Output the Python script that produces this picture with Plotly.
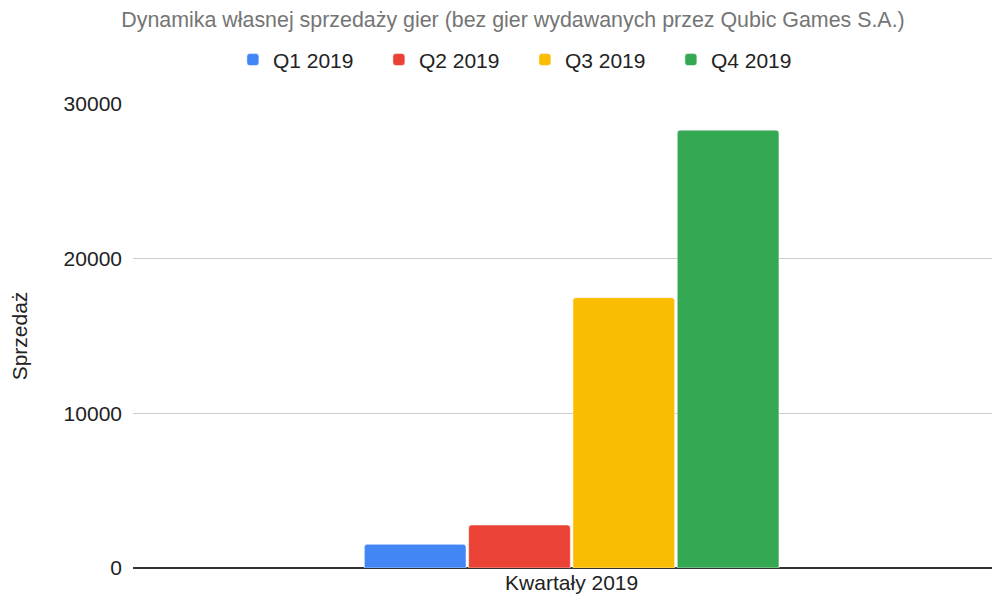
import plotly.graph_objects as go

# Data
categories = ["Kwartały 2019"]
series_names = ["Q1 2019", "Q2 2019", "Q3 2019", "Q4 2019"]
series_values = [[1530], [2780], [17480], [28310]]
series_colors = ["#4285f4", "#ea4335", "#fbbc04", "#34a853"]
y_ticks = [0, 10000, 20000, 30000]
y_tick_labels = ["0", "10000", "20000", "30000"]

FONT = "Arial, Liberation Sans, sans-serif"

fig = go.Figure()
for name, vals, color in zip(series_names, series_values, series_colors):
    fig.add_trace(go.Bar(
        x=categories,
        y=vals,
        name=name,
        marker=dict(color=color, line=dict(color="white", width=0.5)),
    ))

# page body adds an 8px offset, so margins are shifted to compensate
fig.update_layout(
    width=1000,
    height=605,
    paper_bgcolor="white",
    plot_bgcolor="white",
    font=dict(family=FONT, size=21, color="#222222"),
    title=dict(
        text="Dynamika własnej sprzedaży gier (bez gier wydawanych przez Qubic Games S.A.)",
        x=0.505, xanchor="center", y=0.981, yanchor="middle",
        font=dict(family=FONT, size=21.4, color="#757575"),
    ),
    legend=dict(
        orientation="h", x=0.452, xanchor="center", y=1.095, yanchor="middle",
        font=dict(family=FONT, size=21, color="#222222"),
        entrywidth=101, entrywidthmode="pixels",
    ),
    barmode="group",
    bargap=0.513,
    bargroupgap=0.025,
    barcornerradius=3,
    margin=dict(l=125, r=8, t=96, b=45),
    showlegend=True,
)

fig.update_xaxes(
    range=[-0.512, 0.5],
    automargin=False,
    showgrid=False,
    showline=False,
    ticks="",
    tickfont=dict(size=21, color="#222222"),
)
fig.update_yaxes(
    range=[0, 30000],
    automargin=False,
    tickvals=y_ticks,
    ticktext=y_tick_labels,
    showgrid=True,
    gridcolor="#cccccc",
    gridwidth=1,
    zeroline=True,
    zerolinecolor="#333333",
    zerolinewidth=1.5,
    ticks="",
    ticklabelstandoff=10,
    tickfont=dict(size=21, color="#222222"),
    title=dict(text="Sprzedaż", font=dict(size=21, color="#222222"), standoff=32),
)

fig.write_html("out.html")
